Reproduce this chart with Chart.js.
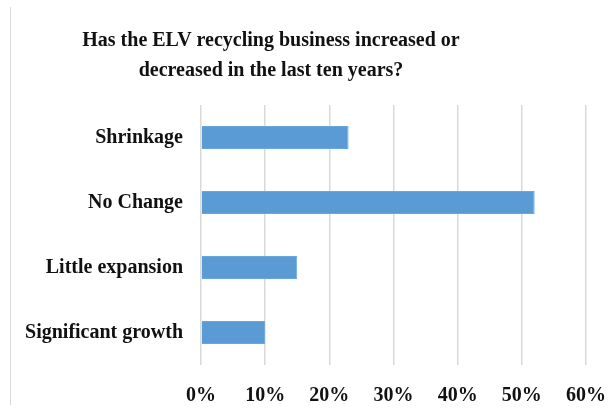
<!DOCTYPE html>
<html lang="en">
<head>
    <meta charset="UTF-8" />
    <title>ELV recycling business</title>
    <script src="https://cdn.jsdelivr.net/npm/chart.js"></script>
    <style>
        html, body {
            margin: 0;
            padding: 0;
            background: #ffffff;
        }
        .chart-box {
            position: relative;
            width: 614px;
            height: 412px;
        }
        .chart-box::before {
            content: "";
            position: absolute;
            left: 10px;
            top: 7px;
            height: 398px;
            border-left: 1px solid #d9d9d9;
        }
    </style>
</head>
<body>
    <div class="chart-box">
        <canvas id="elvChart"></canvas>
    </div>

    <script>
        // data
        const categories = ["Shrinkage", "No Change", "Little expansion", "Significant growth"];
        const shares = [23, 52, 15, 10];
        const tickValues = [0, 10, 20, 30, 40, 50, 60];
        const titleLines = ["Has the ELV recycling business increased or", "decreased in the last ten years?"];

        const serif = "'Liberation Serif', 'Times New Roman', serif";

        // title sits a bit left of the plot centre in the original, so draw it by hand
        const titlePlugin = {
            id: "offsetTitle",
            afterDraw(chart) {
                const c = chart.ctx;
                c.save();
                c.fillStyle = "#111111";
                c.font = "bold 20px " + serif;
                c.textAlign = "center";
                c.textBaseline = "middle";
                titleLines.forEach((line, i) => {
                    c.fillText(line, 271, 41 + i * 30);
                });
                c.restore();
            },
        };

        const ctx = document.getElementById("elvChart").getContext("2d");

        const elvChart = new Chart(ctx, {
            type: "bar",
            data: {
                labels: categories,
                datasets: [
                    {
                        label: "Share of respondents",
                        data: shares,
                        backgroundColor: "#5b9bd5",
                        borderColor: "#6aa5dc",
                        borderWidth: 1,
                        categoryPercentage: 1,
                        barPercentage: 0.355,
                    },
                ],
            },
            options: {
                indexAxis: "y",
                responsive: true,
                maintainAspectRatio: false,
                animation: false,
                layout: { padding: { top: 105, right: 28, bottom: 0, left: 0 } },
                plugins: {
                    legend: { display: false },
                    tooltip: { enabled: false },
                    title: { display: false },
                },
                scales: {
                    x: {
                        min: 0,
                        max: 60,
                        afterBuildTicks: (scale) => {
                            scale.ticks = tickValues.map((v) => ({ value: v }));
                        },
                        afterFit: (scale) => {
                            scale.height = 47;
                            scale.paddingLeft = 0;
                            scale.paddingRight = 0;
                        },
                        border: { display: false },
                        grid: { color: "#d9d9d9", lineWidth: 1.5, drawTicks: false },
                        ticks: {
                            padding: 19,
                            color: "#111111",
                            font: { family: serif, size: 20, weight: "bold" },
                            callback: (v) => v + "%",
                        },
                    },
                    y: {
                        afterFit: (scale) => { scale.width = 201; },
                        border: { display: false },
                        grid: { display: false },
                        ticks: {
                            padding: 10,
                            color: "#111111",
                            font: { family: serif, size: 20, weight: "bold" },
                        },
                    },
                },
            },
            plugins: [titlePlugin],
        });
    </script>
</body>
</html>
